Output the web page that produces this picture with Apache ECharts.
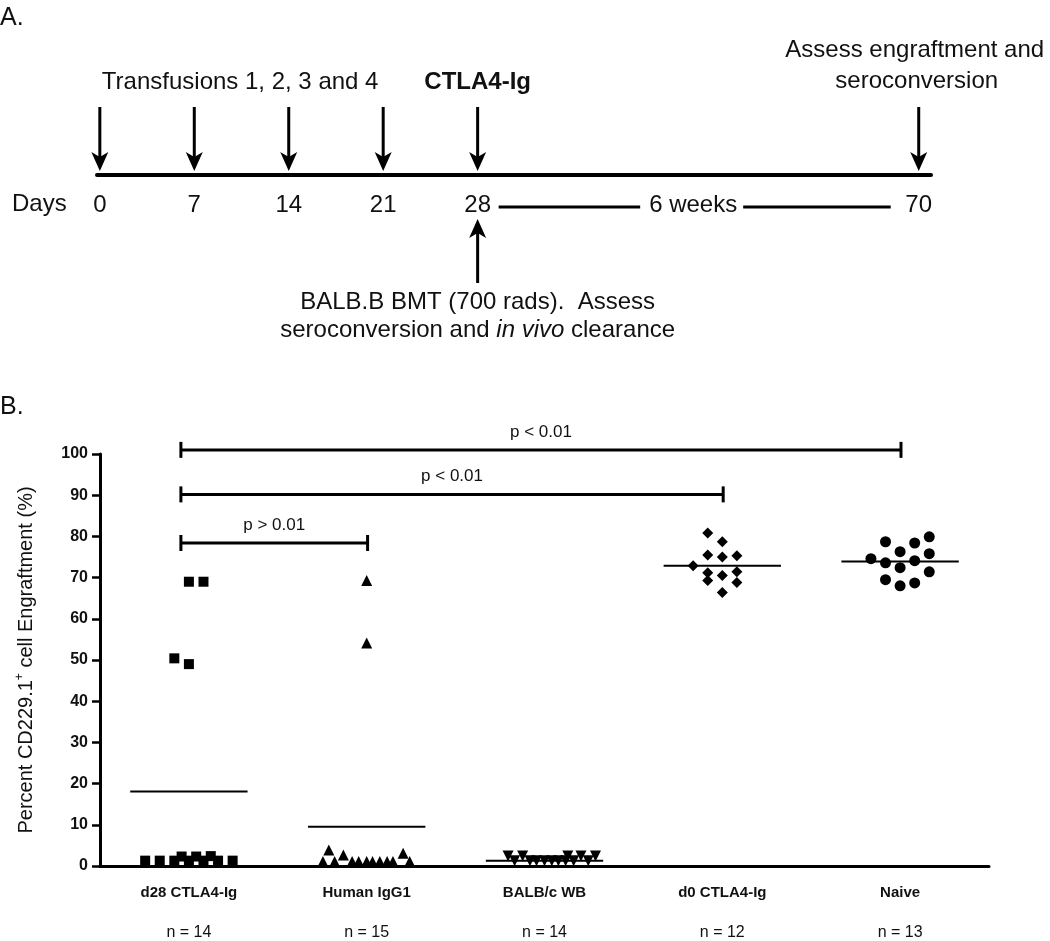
<!DOCTYPE html>
<html>
<head>
<meta charset="utf-8">
<script src="https://cdn.jsdelivr.net/npm/echarts@6/dist/echarts.min.js"></script>
<style>
  html, body { margin: 0; background: #fff; }
  #main { width: 1050px; height: 941px; }
</style>
</head>
<body>
<div id="main"></div>
<script>
// ---- panel B data (percent CD229.1+ engraftment) ----
const groups = ['d28 CTLA4-Ig', 'Human IgG1', 'BALB/c WB', 'd0 CTLA4-Ig', 'Naive'];

const d28Values   = [69.0, 69.0, 50.4, 49.0, 1.3, 1.3, 1.3, 2.3, 1.3, 2.3, 1.3, 2.4, 1.3, 1.3];
const d28Slots    = [0, 1, -1, 0, -3, -2, -1, -0.5, 0, 0.5, 1, 1.5, 2, 3];

const igg1Values  = [69.3, 54.1, 3.9, 2.7, 3.1, 1.1, 1.1, 1.1, 1.1, 1.1, 1.1, 1.1, 1.1, 1.1, 1.1];
const igg1Slots   = [0, 0, -2.6, -1.6, 2.5, -3.0, -2.2, -1.0, -0.55, 0, 0.4, 0.9, 1.4, 1.8, 2.95];

const balbValues  = [2.4, 2.4, 2.4, 2.4, 2.4, 1.3, 1.3, 1.3, 1.3, 1.3, 1.3, 1.3, 1.3, 1.3];
const balbSlots   = [-2.5, -1.5, 1.6, 2.5, 3.5, -2.05, -1.0, -0.55, 0, 0.5, 0.95, 1.45, 2.0, 3.0];

const d0Values    = [80.8, 78.7, 75.5, 75.0, 75.3, 72.9, 71.2, 70.5, 71.4, 69.3, 68.8, 66.4];
const d0Slots     = [-1, 0, -1, 0, 1, -2, -1, 0, 1, -1, 1, 0];

const naiveValues = [78.7, 78.4, 79.9, 76.3, 75.8, 74.6, 73.6, 74.1, 72.4, 71.4, 69.5, 68.0, 68.7];
const naiveSlots  = [-1, 1, 2, 0, 2, -2, -1, 1, 0, 2, -1, 0, 1];

const groupMeans  = [18.1, 9.5, 1.3, 72.9, 73.9];

const yTicks = [0, 10, 20, 30, 40, 50, 60, 70, 80, 90, 100];

// significance brackets
const compareFrom  = [0, 0, 0];
const compareTo    = [1, 3, 4];
const compareLevel = [78.4, 90.2, 101.0];
const compareText  = ['p > 0.01', 'p < 0.01', 'p < 0.01'];

// ---- panel A timeline ----
const timelineDays = [0, 7, 14, 21, 28, 70];
const timelineSlot = [0, 1, 2, 3, 4, 8.67];   // schematic spacing, not to scale

const FONT = 'Arial, "Liberation Sans", Helvetica, sans-serif';
const SLOT = 0.082;       // jitter step in category units
const MEAN_HALF = 0.33;   // half width of mean line
const TL_SIZE = 24;       // panel A text size

const chart = echarts.init(document.getElementById('main'));

const groupSeries = [
  { values: d28Values,   slots: d28Slots,   symbol: 'rect',     size: 10, rotate: 0 },
  { values: igg1Values,  slots: igg1Slots,  symbol: 'triangle', size: 11, rotate: 0 },
  { values: balbValues,  slots: balbSlots,  symbol: 'triangle', size: 11, rotate: 180 },
  { values: d0Values,    slots: d0Slots,    symbol: 'diamond',  size: 11, rotate: 0 },
  { values: naiveValues, slots: naiveSlots, symbol: 'circle',   size: 11, rotate: 0 }
];

function txt(text, x, y, size, opts) {
  return {
    type: 'text',
    style: Object.assign({
      text: text, x: x, y: y,
      font: (opts && opts.weight ? opts.weight + ' ' : '') + size + 'px ' + FONT,
      fill: '#111', align: 'center', verticalAlign: 'middle'
    }, opts && opts.style)
  };
}

function arrow(x, yTail, yTip, dir) {
  const hl = 19 * dir, hw = 8.5, notch = 5 * dir;
  return [
    { type: 'line', shape: { x1: x, y1: yTail, x2: x, y2: yTip - hl + notch },
      style: { stroke: '#000', lineWidth: 3 } },
    { type: 'polygon',
      shape: { points: [[x, yTip], [x - hw, yTip - hl], [x, yTip - hl + notch], [x + hw, yTip - hl]] },
      style: { fill: '#000' } }
  ];
}

const option = {
  backgroundColor: '#fff',
  animation: false,
  textStyle: { fontFamily: FONT },
  grid: [
    { left: 100, top: 454, width: 889, height: 414 },
    { left: 97, top: 100, width: 834, height: 75 }
  ],
  xAxis: [
    {
      type: 'category', gridIndex: 0, data: groups,
      axisLine: { onZero: false, lineStyle: { color: '#000', width: 3 } },
      axisTick: { alignWithLabel: true, length: 8, lineStyle: { color: '#000', width: 2.5 } },
      axisLabel: {
        margin: 17,
        formatter: (v, i) => '{c|' + v + '}\n{g|}\n{n|n = ' + groupSeries[i].values.length + '}',
        rich: {
          c: { fontSize: 15, fontWeight: 'bold', color: '#111', lineHeight: 20, fontFamily: FONT },
          g: { lineHeight: 20 },
          n: { fontSize: 16, color: '#111', lineHeight: 20, fontFamily: FONT }
        }
      },
      splitLine: { show: false }
    },
    { type: 'value', gridIndex: 0, min: 0, max: 5, show: false },
    {
      type: 'value', gridIndex: 1, min: -0.03, max: 8.8,
      axisLine: { show: true, onZero: false, lineStyle: { color: '#000', width: 4 } },
      axisTick: { show: false }, axisLabel: { show: false }, splitLine: { show: false }
    }
  ],
  yAxis: [
    {
      type: 'value', gridIndex: 0, min: 0, max: 100, interval: 10,
      axisLine: { show: true, onZero: false, lineStyle: { color: '#000', width: 3 } },
      axisTick: { show: true, length: 8, lineStyle: { color: '#000', width: 2.5 } },
      axisLabel: {
        margin: 12, fontSize: 16, fontWeight: 'bold', color: '#111',
        formatter: v => (yTicks.indexOf(v) >= 0 ? String(v) : '')
      },
      splitLine: { show: false },
      name: '{a|Percent CD229.1}{s|+}{a| cell Engraftment (%)}',
      nameLocation: 'middle', nameRotate: 90, nameGap: 62,
      nameTextStyle: {
        rich: {
          a: { fontSize: 20, color: '#111', fontFamily: FONT, lineHeight: 24 },
          s: { fontSize: 12, color: '#111', fontFamily: FONT, verticalAlign: 'top', lineHeight: 24 }
        }
      }
    },
    { type: 'value', gridIndex: 1, min: 0, max: 1, show: false }
  ],
  graphic: [
    { type: 'text', left: 0, top: 6, style: { text: 'A.', font: '25px ' + FONT, fill: '#111' } },
    { type: 'text', left: 0, top: 395, style: { text: 'B.', font: '25px ' + FONT, fill: '#111' } },
    { type: 'text', left: 12, top: 192, style: { text: 'Days', font: TL_SIZE + 'px ' + FONT, fill: '#111' } }
  ],
  series: [
    // mean lines
    {
      type: 'custom', xAxisIndex: 1, yAxisIndex: 0, z: 4, silent: true,
      data: groupMeans.map((m, i) => [i, m]),
      renderItem: (params, api) => {
        const i = api.value(0), m = api.value(1);
        const a = api.coord([i + 0.5 - MEAN_HALF, m]);
        const b = api.coord([i + 0.5 + MEAN_HALF, m]);
        return { type: 'line', shape: { x1: a[0], y1: a[1], x2: b[0], y2: b[1] },
                 style: { stroke: '#000', lineWidth: 2 } };
      }
    },
    // points
    ...groupSeries.map((g, gi) => ({
      type: 'scatter', xAxisIndex: 1, yAxisIndex: 0, z: 3, silent: true,
      symbol: g.symbol, symbolSize: g.size, symbolRotate: g.rotate,
      itemStyle: { color: '#000', opacity: 1 },
      data: g.values.map((v, k) => [gi + 0.5 + g.slots[k] * SLOT, v])
    })),
    // significance brackets
    {
      type: 'custom', xAxisIndex: 1, yAxisIndex: 0, z: 5, silent: true, clip: false,
      data: compareLevel.map((l, k) => [compareFrom[k], compareTo[k], l, k]),
      renderItem: (params, api) => {
        const k = api.value(3), lvl = api.value(2);
        const a = api.coord([api.value(0) + 0.455, lvl]);
        const b = api.coord([api.value(1) + 0.505, lvl]);
        const line = (x1, y1, x2, y2) => ({ type: 'line', shape: { x1, y1, x2, y2 },
                                            style: { stroke: '#000', lineWidth: 3 } });
        return {
          type: 'group',
          children: [
            line(a[0], a[1], b[0], b[1]),
            line(a[0], a[1] - 8, a[0], a[1] + 8),
            line(b[0], b[1] - 8, b[0], b[1] + 8),
            txt(compareText[k], (a[0] + b[0]) / 2, a[1] - 18, 17)
          ]
        };
      }
    },
    // timeline (panel A)
    {
      type: 'custom', xAxisIndex: 2, yAxisIndex: 1, z: 5, silent: true, clip: false,
      data: timelineDays.map((d, i) => [timelineSlot[i], d]),
      renderItem: (params, api) => {
        const i = params.dataIndex;
        const x = api.coord([api.value(0), 0])[0];
        let kids = arrow(x, 107, 171, 1);
        kids.push(txt(String(api.value(1)), x, 205, TL_SIZE));
        if (i === 0) {
          kids.push(txt('Transfusions 1, 2, 3 and 4', x + 2, 82, TL_SIZE, { style: { align: 'left' } }));
        }
        if (i === 4) {
          kids.push(txt('CTLA4-Ig', x, 82, TL_SIZE, { weight: 'bold' }));
          kids = kids.concat(arrow(x, 283, 219, -1));
          kids.push(txt('BALB.B BMT (700 rads).  Assess', x, 302, TL_SIZE));
          kids.push({
            type: 'text',
            style: {
              text: '{n|seroconversion and }{i|in vivo}{n| clearance}',
              x: x, y: 330, align: 'center', verticalAlign: 'middle',
              rich: {
                n: { font: TL_SIZE + 'px ' + FONT, fill: '#111' },
                i: { font: 'italic ' + TL_SIZE + 'px ' + FONT, fill: '#111' }
              }
            }
          });
        }
        if (i === timelineDays.length - 1) {
          kids.push(txt('Assess engraftment and', x - 4, 50, TL_SIZE));
          kids.push(txt('seroconversion', x - 2, 81, TL_SIZE));
          const x28 = api.coord([timelineSlot[4], 0])[0];
          const mid = (x28 + x) / 2;
          const dash = (x1, x2) => ({ type: 'line', shape: { x1, y1: 207, x2, y2: 207 },
                                      style: { stroke: '#000', lineWidth: 3 } });
          kids.push(dash(x28 + 21, mid - 58));
          kids.push(txt('6 weeks', mid - 5, 205, TL_SIZE));
          kids.push(dash(mid + 45, x - 28));
        }
        return { type: 'group', children: kids };
      }
    }
  ]
};

chart.setOption(option);
</script>
</body>
</html>
